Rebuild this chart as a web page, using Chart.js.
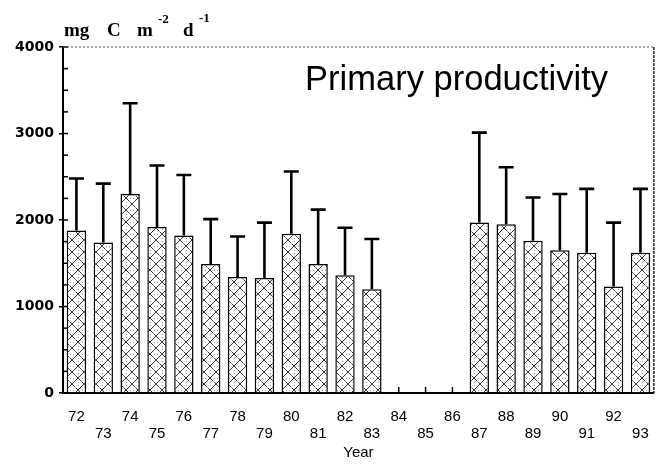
<!DOCTYPE html>
<html>
<head>
<meta charset="utf-8">
<script src="https://cdn.jsdelivr.net/npm/chart.js@4.4.1/dist/chart.umd.min.js"></script>
<style>
  html, body { margin: 0; padding: 0; background: #fff; }
  #wrap { width: 664px; height: 468px; }
</style>
</head>
<body>
<div id="wrap"><canvas id="c" width="664" height="468"></canvas></div>
<script>
// ---- data ----
const years = ['72','73','74','75','76','77','78','79','80','81','82','83','84','85','86','87','88','89','90','91','92','93'];
const meanPP = [1880,1740,2300,1920,1820,1490,1340,1330,1840,1490,1360,1200,null,null,null,1970,1950,1760,1650,1620,1230,1620];
const sdPP   = [600,680,1050,710,700,520,470,640,720,630,550,580,null,null,null,1040,660,500,650,740,740,740];
const yTicks = [0,1000,2000,3000,4000];
const titleText = 'Primary productivity';
const xTitle = 'Year';

// ---- hatch pattern ----
function makePattern() {
  const s = 12;
  const cv = document.createElement('canvas');
  cv.width = s; cv.height = s;
  const g = cv.getContext('2d');
  g.fillStyle = '#fff';
  g.fillRect(0, 0, s, s);
  g.strokeStyle = '#333';
  g.lineWidth = 1;
  g.beginPath();
  g.moveTo(-2, -2); g.lineTo(s + 2, s + 2);
  g.moveTo(s + 2, -2); g.lineTo(-2, s + 2);
  g.stroke();
  g.fillStyle = '#999';
  [[6,1],[1,6],[10,6],[6,10],[3,3],[9,9]].forEach(p => g.fillRect(p[0], p[1], 1, 1));
  return g.createPattern(cv, 'repeat');
}
const hatch = makePattern();

// ---- plugins ----
const framePlugin = {
  id: 'frame',
  beforeDatasetsDraw(chart) {
    const {ctx, chartArea: a, scales: {x, y}} = chart;
    ctx.save();
    ctx.strokeStyle = '#000';
    ctx.lineWidth = 1.5;
    for (let v = 0; v <= 4000; v += 250) {
      const py = y.getPixelForValue(v);
      ctx.beginPath(); ctx.moveTo(a.left, py); ctx.lineTo(a.left + 5, py); ctx.stroke();
    }
    for (let i = 0; i < years.length; i++) {
      const px = x.getPixelForValue(i);
      ctx.beginPath(); ctx.moveTo(px, a.bottom); ctx.lineTo(px, a.bottom - 6); ctx.stroke();
    }
    ctx.lineWidth = 1;
    ctx.strokeStyle = '#555';
    ctx.setLineDash([2, 2]);
    ctx.beginPath(); ctx.moveTo(a.left, a.top); ctx.lineTo(a.right, a.top); ctx.stroke();
    ctx.lineWidth = 1.5;
    ctx.strokeStyle = '#222';
    ctx.setLineDash([3, 1]);
    ctx.beginPath(); ctx.moveTo(a.right, a.top); ctx.lineTo(a.right, a.bottom); ctx.stroke();
    ctx.restore();
  },
  afterDatasetsDraw(chart) {
    const {ctx, scales: {y}} = chart;
    const meta = chart.getDatasetMeta(0);
    ctx.save();
    ctx.strokeStyle = '#000';
    ctx.lineWidth = 2.6;
    ctx.lineCap = 'butt';
    meta.data.forEach((bar, i) => {
      if (meanPP[i] == null || sdPP[i] == null) return;
      const yb = y.getPixelForValue(meanPP[i]);
      const yt = y.getPixelForValue(meanPP[i] + sdPP[i]);
      ctx.beginPath();
      ctx.moveTo(bar.x, yb); ctx.lineTo(bar.x, yt);
      ctx.moveTo(bar.x - 7.5, yt); ctx.lineTo(bar.x + 7.5, yt);
      ctx.stroke();
    });
    ctx.restore();
  },
  afterDraw(chart) {
    const {ctx} = chart;
    ctx.save();
    ctx.fillStyle = '#000';
    ctx.font = '34.5px "Liberation Sans", Arial, sans-serif';
    ctx.textAlign = 'right';
    ctx.textBaseline = 'alphabetic';
    ctx.fillText(titleText, 608, 90);
    ctx.textAlign = 'left';
    ctx.font = 'bold 19px "Liberation Serif", "Times New Roman", serif';
    ctx.fillText('mg', 64, 36);
    ctx.fillText('C', 107, 36);
    ctx.fillText('m', 137, 36);
    ctx.fillText('d', 183, 36);
    ctx.font = 'bold 13px "Liberation Serif", "Times New Roman", serif';
    ctx.fillText('-2', 158, 23);
    ctx.fillText('-1', 199, 22);
    ctx.restore();
  }
};

new Chart(document.getElementById('c'), {
  type: 'bar',
  data: {
    labels: years,
    datasets: [{
      data: meanPP,
      backgroundColor: hatch,
      borderColor: '#000',
      borderWidth: 1.5,
      borderSkipped: 'start',
      barPercentage: 0.72,
      categoryPercentage: 1.0
    }]
  },
  options: {
    responsive: false,
    animation: false,
    devicePixelRatio: 1,
    layout: { padding: { top: 47, right: 9, left: 0, bottom: 0 } },
    plugins: { legend: { display: false }, tooltip: { enabled: false } },
    scales: {
      x: {
        grid: { display: false, drawTicks: false },
        border: { display: true, color: '#000', width: 2, dash: [2, 1] },
        ticks: {
          autoSkip: false,
          maxRotation: 0,
          padding: 15,
          color: '#000',
          font: { family: '"Liberation Sans", Arial, sans-serif', size: 15, lineHeight: '17.5px' },
          callback: function(v, i) { return i % 2 === 0 ? [years[i]] : ['', years[i]]; }
        },
        title: {
          display: true, text: xTitle, color: '#000',
          font: { family: '"Liberation Sans", Arial, sans-serif', size: 15, lineHeight: 1.2 },
          padding: { top: 0, bottom: 6 }
        },
        afterFit(s) { s.height = 75; }
      },
      y: {
        min: 0, max: 4000,
        afterBuildTicks(s) { s.ticks = yTicks.map(v => ({ value: v })); },
        grid: { display: true, drawOnChartArea: false, drawTicks: true, tickLength: 4, color: '#000', lineWidth: 1.5 },
        border: { display: true, color: '#000', width: 2 },
        ticks: {
          padding: 5,
          color: '#000',
          font: { family: '"DejaVu Sans", sans-serif', size: 14, weight: 'bold' },
          callback: v => String(v)
        },
        afterFit(s) { s.width = 63; }
      }
    }
  },
  plugins: [framePlugin]
});
</script>
</body>
</html>
